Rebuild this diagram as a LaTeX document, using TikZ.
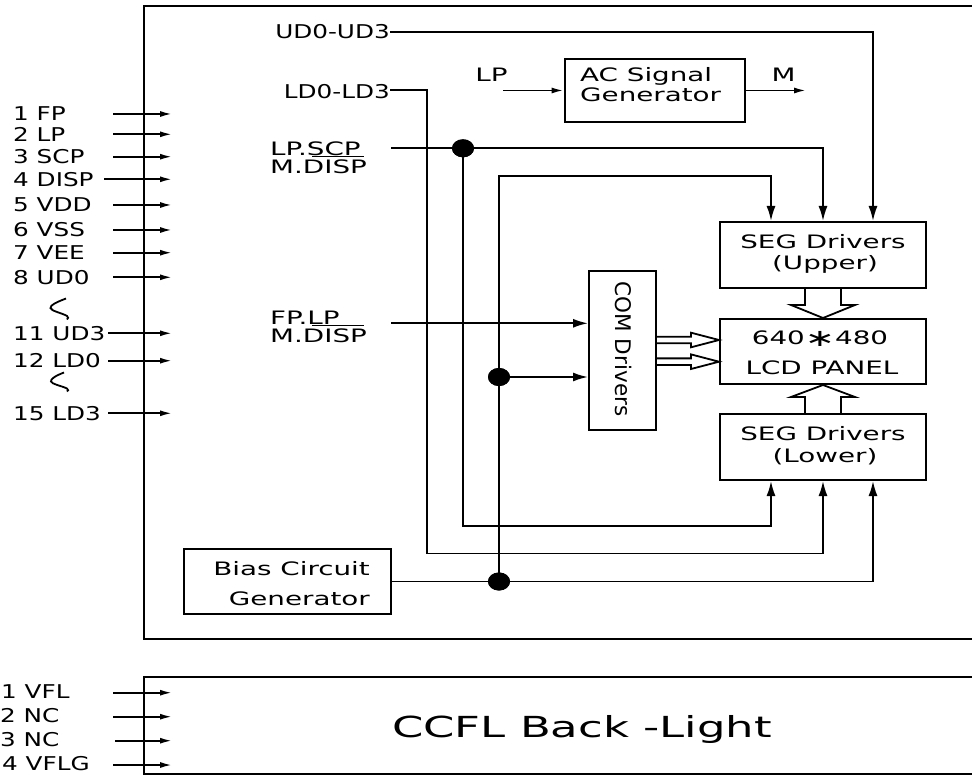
\documentclass[tikz,border=0pt]{standalone}
\usepackage{fontspec}
\setmainfont{DejaVu Sans}[FakeStretch=1.5]
\newfontfamily\pinfont{DejaVu Sans}[FakeStretch=1.3]
\newfontfamily\comfont{DejaVu Sans}
\newfontfamily\bigfont{DejaVu Sans}[FakeStretch=1.55]
\usetikzlibrary{arrows.meta,calc,shapes.geometric}
\tikzset{
  lbl/.style={inner sep=0pt, font=\fontsize{18.5}{22}\selectfont},
  pinlbl/.style={inner sep=0pt, font=\pinfont\fontsize{19}{22}\selectfont},
  wire/.style={line width=1.8pt},
  arr/.style={wire,-{Latex[length=15pt,width=9pt]}},
  pin/.style={wire,-{Latex[length=12pt,width=6pt]}},
  blk/.style={draw,line width=2pt,inner sep=0pt},
  frame/.style={line width=2pt},
  hollow/.style={line width=1.8pt,line join=miter},
  jdot/.style={ellipse,fill=black,inner sep=0pt,minimum width=22pt,minimum height=18pt},
}
\begin{document}
\begin{tikzpicture}[x=1pt,y=-1pt]
\useasboundingbox (0,0) rectangle (972,775);

% outer frames
\draw[frame] (972,6) -- (144,6) -- (144,639) -- (972,639);
\draw[frame] (972,677) -- (144,677) -- (144,774) -- (972,774);

% blocks
\node[blk,minimum width=206pt,minimum height=66pt] (segU) at (823,255) {};
\node[blk,minimum width=206pt,minimum height=65pt] (lcd) at (823,351.5) {};
\node[blk,minimum width=206pt,minimum height=66pt] (segL) at (823,447) {};
\node[blk,minimum width=67pt,minimum height=159pt] (com) at (622.5,350.5) {};
\node[blk,minimum width=180pt,minimum height=63pt] (ac) at (654.5,90.5) {};
\node[blk,minimum width=207pt,minimum height=65pt] (bias) at (287.5,581.5) {};

% block texts
\node[lbl,anchor=base] (tsu1) at (823,249) {SEG Drivers};
\node[lbl,anchor=base] (tsu2) at (825,270) {(Upper)};
\node[lbl,anchor=base] (tl1) at (820,345) {640\raisebox{-0.1em}{\scalebox{1.3}{∗}}480};
\node[lbl,anchor=base] (tl2) at (822,375) {LCD PANEL};
\node[lbl,anchor=base] (tsl1) at (823,440.7) {SEG Drivers};
\node[lbl,anchor=base] (tsl2) at (825,462.5) {(Lower)};
\node[inner sep=0pt,rotate=-90,font=\comfont\fontsize{21.5}{22}\selectfont] (tcom) at (624,349) {COM Drivers};
\node[lbl,anchor=base west] (tac1) at (580,82) {AC Signal};
\node[lbl,anchor=base west] (tac2) at (580,102) {Generator};
\node[lbl,anchor=base east] (tb1) at (370,575) {Bias Circuit};
\node[lbl,anchor=base east] (tb2) at (370,605) {Generator};
\node[inner sep=0pt,anchor=base,font=\bigfont\fontsize{29}{30}\selectfont] (ccfl) at (582,737) {CCFL Back -Light};

% signal labels
\node[pinlbl,anchor=base east] (ud) at (390,39) {UD0-UD3};
\node[pinlbl,anchor=base east] (ld) at (390,99) {LD0-LD3};
\node[lbl,anchor=base west] (lps1) at (270,155.5) {LP.SCP};
\node[lbl,anchor=base west] (lps2) at (270,174) {M.DISP};
\node[lbl,anchor=base west] (fpl1) at (270,325) {FP.LP};
\node[lbl,anchor=base west] (fpl2) at (270,343) {M.DISP};
\node[lbl,anchor=base] (lpt) at (491.5,82) {LP};
\node[lbl,anchor=base] (mt) at (783.5,82) {M};
\draw[wire] (312,156.5) -- (364,156.5);
\draw[wire] (312,325.5) -- (364,325.5);

% junction coordinates
\coordinate (udB) at (873,32.3);
\coordinate (ldB) at (427,90);
\coordinate (ldC) at (427,553.5);
\coordinate (lpsIn) at (391,148.3);
\coordinate (fpIn) at (391,323.3);
\coordinate (lpA) at (499,176);
\coordinate (d1B) at (463,526);
\coordinate (lpIn) at (503,90.5);
\coordinate (mOut) at (806,90.5);
\coordinate (c1) at (0,340);
\coordinate (c2) at (0,361.7);
\node[jdot] (d1) at (463,148.3) {};
\node[jdot] (d2) at (499,377) {};
\node[jdot] (d3) at (499,581.5) {};

% wires
\draw[arr] (ud.east |- udB) -- (udB) -- (udB |- segU.north);
\draw[arr] (ld.east |- ldB) -- (ldB) -- (ldC) -| (segL.south);
\draw[arr] (lpsIn) -- (d1.center) -| (segU.north);
\draw[arr] (d1.center) -- (d1B) -| ($(segL.south)+(-52,0)$);
\draw[arr] (d3.center) -- (lpA) -| ($(segU.north)+(-52,0)$);
\draw[arr] (d2.center) -- (d2 -| com.west);
\draw[arr] (fpIn) -- (fpIn -| com.west);
\draw[arr] (bias.east) -- (d3.center) -| ($(segL.south)+(50,0)$);
\draw[pin] (lpIn) -- (ac.west);
\draw[pin] (ac.east) -- (mOut);
% dots on top
\fill (d1) ellipse [x radius=11pt, y radius=9pt];
\fill (d2) ellipse [x radius=11pt, y radius=9pt];
\fill (d3) ellipse [x radius=11pt, y radius=9pt];

% hollow bus arrows
\draw[hollow] ($(segU.south)+(-18,0)$) -- ++(0,16) -- ++(-14,0) -- (lcd.north) -- ($(segU.south)+(32,16)$) -- ++(-14,0) -- ($(segU.south)+(18,0)$);
\draw[hollow] ($(segL.north)+(-18,0)$) -- ++(0,-16) -- ++(-14,0) -- (lcd.south) -- ($(segL.north)+(32,-16)$) -- ++(-14,0) -- ($(segL.north)+(18,0)$);
\draw[hollow] ($(com.east |- c1)+(0,-3.3)$) -- ($(lcd.west |- c1)+(-28,-3.3)$) -- ++(0,-4) -- (lcd.west |- c1) -- ($(lcd.west |- c1)+(-28,7.3)$) -- ++(0,-4) -- ($(com.east |- c1)+(0,3.3)$);
\draw[hollow] ($(com.east |- c2)+(0,-3.3)$) -- ($(lcd.west |- c2)+(-28,-3.3)$) -- ++(0,-4) -- (lcd.west |- c2) -- ($(lcd.west |- c2)+(-28,7.3)$) -- ++(0,-4) -- ($(com.east |- c2)+(0,3.3)$);

% left pins
\foreach \t/\y/\s [count=\i] in {1 FP/114/113, 2 LP/134.3/113, 3 SCP/156.7/113, 4 DISP/179.3/104, 5 VDD/205/113, 6 VSS/230/113, 7 VEE/252.7/113, 8 UD0/277.3/113, 11 UD3/333.3/108, 12 LD0/360.7/108, 15 LD3/413.3/108} {
  \node[pinlbl,anchor=base west] (p\i) at (13,\y+6.9) {\t};
  \coordinate (ps\i) at (\s,\y);
  \coordinate (pe\i) at (172,\y);
  \draw[pin] (ps\i) -- (pe\i);
}
% range marks
\draw[wire] (66,298.5) .. controls (57,302) and (50,305) .. (50.5,308) .. controls (51,311) and (62,313) .. (67,316) .. controls (68.5,317) and (68.5,318.5) .. (67,319.5);
\draw[wire] (64,372.5) .. controls (55,376) and (50.5,379) .. (51,381.5) .. controls (51.5,384) and (62,386) .. (67,388.5) .. controls (68.5,389.5) and (68.5,391) .. (67,391.5);

% backlight pins
\foreach \t/\y/\x/\s [count=\i] in {1 VFL/692.7/1/113, 2 NC/716.7/0/113, 3 NC/740.7/0/115, 4 VFLG/765/2/113} {
  \node[pinlbl,anchor=base west] (b\i) at (\x,\y+5.5) {\t};
  \coordinate (bs\i) at (\s,\y);
  \coordinate (be\i) at (172,\y);
  \draw[pin] (bs\i) -- (be\i);
}
\end{tikzpicture}
\end{document}
